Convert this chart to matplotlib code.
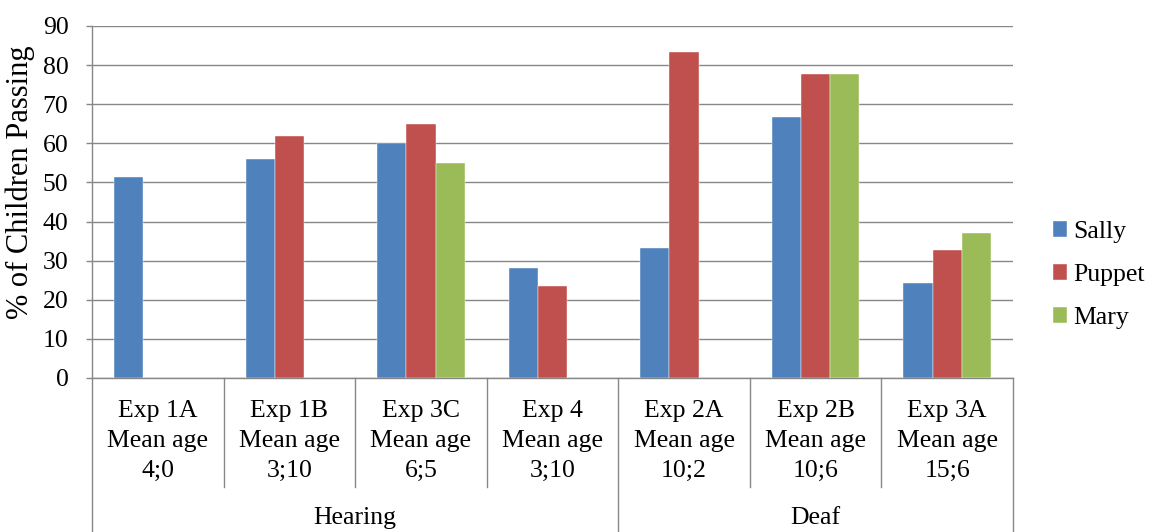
import matplotlib
matplotlib.use("Agg")
import matplotlib.pyplot as plt
import numpy as np

plt.rcParams['font.family'] = ['Liberation Serif', 'DejaVu Serif']
FS = 18.5

experiments = ["Exp 1A", "Exp 1B", "Exp 3C", "Exp 4", "Exp 2A", "Exp 2B", "Exp 3A"]
mean_ages = ["4;0", "3;10", "6;5", "3;10", "10;2", "10;6", "15;6"]
groups = ["Hearing", "Deaf"]
group_sizes = [4, 3]

series_names = ["Sally", "Puppet", "Mary"]
sally = [51.5, 56, 60, 28, 33.3, 66.7, 24.2]
puppet = [None, 62, 65, 23.4, 83.3, 77.8, 32.8]
mary = [None, None, 55, None, None, 77.8, 37]
colors = ["#4F81BD", "#C0504D", "#9BBB59"]

W, H = 1162, 532
fig = plt.figure(figsize=(W / 100, H / 100), dpi=100)
L, R, T, B = 92, 1013, 26, 378
ax = fig.add_axes([L / W, (H - B) / H, (R - L) / W, (B - T) / H])

n = len(experiments)
x = np.arange(n)
bw = 1 / 4.5
grid_c = "#878787"

handles = []
for i, (vals, c) in enumerate(zip([sally, puppet, mary], colors)):
    xs = [xi + (i - 1) * bw for xi, v in zip(x, vals) if v is not None]
    hs = [v for v in vals if v is not None]
    h = ax.bar(xs, hs, width=bw, color=c, edgecolor="#ffffff", linewidth=0.3, zorder=3)
    handles.append(h)

ax.set_xlim(-0.5, n - 0.5)
ax.set_ylim(0, 90)
ax.set_yticks(np.arange(0, 91, 10))
ax.yaxis.grid(True, color=grid_c, linewidth=1.0, zorder=0)
ax.set_axisbelow(True)
ax.set_xticks([])
ax.tick_params(axis='y', direction='out', length=4.5, width=1.0, color=grid_c, pad=12.5, labelsize=FS)
for s in ["top", "right"]:
    ax.spines[s].set_visible(False)
for s in ["left", "bottom"]:
    ax.spines[s].set_color(grid_c)
    ax.spines[s].set_linewidth(1.0)

ax.set_ylabel("% of Children Passing", fontsize=22)
ax.yaxis.set_label_coords((35 - L) / (R - L), (B - 182) / (B - T))

# category table below
h_ax = B - T
def fy(py):
    return -(py - B) / h_ax

tr = ax.get_xaxis_transform()
bounds = np.arange(n + 1) - 0.5
outer = [0]
acc = 0
for g in group_sizes:
    acc += g
    outer.append(acc)
for k, bx in enumerate(bounds):
    y_end = fy(532) if k in outer else fy(487)
    ax.plot([bx, bx], [0, y_end], transform=tr, color=grid_c, linewidth=1.0, clip_on=False)

for xi, e, a in zip(x, experiments, mean_ages):
    ax.text(xi, fy(411), e, transform=tr, ha="center", va="center", fontsize=FS)
    ax.text(xi, fy(441), "Mean age", transform=tr, ha="center", va="center", fontsize=FS)
    ax.text(xi, fy(471), a, transform=tr, ha="center", va="center", fontsize=FS)

start = 0
for g, sz in zip(groups, group_sizes):
    cx = (bounds[start] + bounds[start + sz]) / 2
    ax.text(cx, fy(518), g, transform=tr, ha="center", va="center", fontsize=FS)
    start += sz

fig.legend(handles, series_names, loc="center left", bbox_to_anchor=(1053 / W, 1 - 275 / H),
           frameon=False, handlelength=0.55, handleheight=0.55, handletextpad=0.25,
           labelspacing=0.82, fontsize=FS, borderaxespad=0, borderpad=0)

fig.savefig("out.png", dpi=100)
